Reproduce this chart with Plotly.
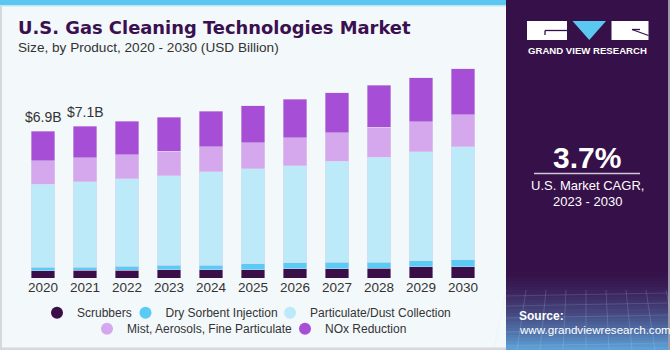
import plotly.graph_objects as go

# ---------------- data ----------------
years = ['2020', '2021', '2022', '2023', '2024', '2025', '2026', '2027', '2028', '2029', '2030']
scrubbers = [0.34, 0.36, 0.36, 0.39, 0.39, 0.40, 0.44, 0.44, 0.45, 0.52, 0.53]
dry_sorbent = [0.16, 0.15, 0.19, 0.20, 0.22, 0.27, 0.27, 0.30, 0.30, 0.30, 0.32]
particulate = [3.92, 4.03, 4.13, 4.22, 4.38, 4.46, 4.58, 4.75, 4.94, 5.12, 5.32]
mist = [1.10, 1.12, 1.13, 1.16, 1.19, 1.24, 1.30, 1.34, 1.41, 1.41, 1.51]
nox = [1.38, 1.47, 1.57, 1.60, 1.66, 1.74, 1.82, 1.88, 1.96, 2.07, 2.16]
series_names = ['Scrubbers', 'Dry Sorbent Injection', 'Particulate/Dust Collection',
                'Mist, Aerosols, Fine Particulate', 'NOx Reduction']
labelled_years = ['2020', '2021']
cagr_text = '3.7%'

# ---------------- style ----------------
colors = ['#3A0F48', '#5ACBF5', '#BDEAF9', '#D5A8EE', '#A64FD6']
FONT = 'Liberation Sans'
PANEL = '#361048'

WIDTH, HEIGHT = 670, 350
L, R, T, B = 22, 186, 55, 72
PW, PH = WIDTH - L - R, HEIGHT - T - B

# legend item placement (text start px, row centre px)
legend_pos = [(77, 312.7), (165.5, 312.7), (310, 312.7), (127, 328.7), (325, 328.7)]


def X(px):
    return (px - L) / PW


def Y(py):
    return (HEIGHT - B - py) / PH


fig = go.Figure()
all_series = [scrubbers, dry_sorbent, particulate, mist, nox]
for name, vals, col in zip(series_names, all_series, colors):
    fig.add_trace(go.Bar(
        x=years, y=vals, name=name, marker_color=col,
        marker_line=dict(width=0.5, color='rgba(225,215,240,0.9)'),
        showlegend=False, hoverinfo='x+y+name'))

legend_ids = ['legend', 'legend2', 'legend3', 'legend4', 'legend5']
for i, (name, col) in enumerate(zip(series_names, colors)):
    fig.add_trace(go.Scatter(
        x=[None], y=[None], mode='markers', name=name,
        marker=dict(size=9, color=col, symbol='circle'),
        legend=legend_ids[i], showlegend=True))

totals = [sum(v) for v in zip(*all_series)]
annotations = []
for yr in labelled_years:
    idx = years.index(yr)
    annotations.append(dict(
        x=idx, y=totals[idx], xref='x', yref='y', text=f'${totals[idx]:.1f}B',
        showarrow=False, yshift=14, font=dict(family=FONT, size=14, color='#333333')))

# title and subtitle
annotations.append(dict(x=X(16), y=Y(27), xref='paper', yref='paper', xanchor='left', yanchor='middle',
                        text='<b>U.S. Gas Cleaning Technologies Market</b>', showarrow=False,
                        font=dict(family='DejaVu Sans', size=17.9, color='#3A1050')))
annotations.append(dict(x=X(16), y=Y(47.5), xref='paper', yref='paper', xanchor='left', yanchor='middle',
                        text='Size, by Product, 2020 - 2030 (USD Billion)', showarrow=False,
                        font=dict(family=FONT, size=13.6, color='#333333')))

# right panel texts
annotations += [
    dict(x=X(587.5), y=Y(50.5), xref='paper', yref='paper', xanchor='center', yanchor='middle',
         text='<b>GRAND VIEW RESEARCH</b>', showarrow=False,
         font=dict(family=FONT, size=9.6, color='white')),
    dict(x=X(587), y=Y(157), xref='paper', yref='paper', xanchor='center', yanchor='middle',
         text=f'<b>{cagr_text}</b>', showarrow=False,
         font=dict(family=FONT, size=30, color='white')),
    dict(x=X(587), y=Y(185), xref='paper', yref='paper', xanchor='center', yanchor='middle',
         text='U.S. Market CAGR,', showarrow=False,
         font=dict(family=FONT, size=13, color='white')),
    dict(x=X(587), y=Y(201), xref='paper', yref='paper', xanchor='center', yanchor='middle',
         text='2023 - 2030', showarrow=False,
         font=dict(family=FONT, size=13, color='white')),
    dict(x=X(517), y=Y(315.5), xref='paper', yref='paper', xanchor='left', yanchor='middle',
         text='<b>Source:</b>', showarrow=False,
         font=dict(family=FONT, size=12, color='white')),
    dict(x=X(517), y=Y(329.5), xref='paper', yref='paper', xanchor='left', yanchor='middle',
         text='www.grandviewresearch.com', showarrow=False,
         font=dict(family=FONT, size=11.6, color='white')),
]


def rect(x0, y0, x1, y1, color, layer='below', line=None):
    return dict(type='rect', xref='paper', yref='paper', x0=X(x0), x1=X(x1), y0=Y(y0), y1=Y(y1),
                fillcolor=color, line=line or dict(width=0), layer=layer)


shapes = []
shapes.append(rect(0, 0, 2, 350, '#D5D8DC'))
shapes.append(rect(0, 347.5, 506, 350, '#D5D8DC'))
shapes.append(rect(0, 0, 506, 5, '#5BC8F2'))
shapes.append(rect(0, 5, 506, 6.5, '#BFE6F6'))
shapes.append(rect(506, 0, 668, 350, PANEL))
shapes.append(rect(668, 0, 670, 350, '#9A9AA8'))


def lerp(c0, c1, t):
    return '#%02x%02x%02x' % tuple(int(round(c0[i] + (c1[i] - c0[i]) * t)) for i in range(3))


c_top = (0x36, 0x10, 0x48)
c_bot = (0x5E, 0xA4, 0xDA)
n = 26
y_start, y_end = 268, 350
for i in range(n):
    t = ((i + 0.5) / n) ** 1.6
    ya = y_start + (y_end - y_start) * i / n
    yb = y_start + (y_end - y_start) * (i + 1) / n + 0.5
    shapes.append(rect(506, ya, 668, yb, lerp(c_top, c_bot, t)))
for k in range(9):
    xx = 506 + k * 20
    shapes.append(dict(type='line', xref='paper', yref='paper', x0=X(xx), x1=X(xx - 12 + k * 3),
                       y0=Y(290), y1=Y(350), line=dict(color='rgba(200,220,255,0.18)', width=1),
                       layer='below'))
for yy in [296, 306, 318, 332, 346]:
    shapes.append(dict(type='line', xref='paper', yref='paper', x0=X(506), x1=X(668),
                       y0=Y(yy), y1=Y(yy - 3), line=dict(color='rgba(200,220,255,0.16)', width=1),
                       layer='below'))

# logo
shapes.append(rect(527, 21, 567, 40, 'white'))
shapes.append(dict(type='line', xref='paper', yref='paper', x0=X(545), x1=X(567), y0=Y(30.5), y1=Y(30.5),
                   line=dict(color=PANEL, width=1.3), layer='below'))
shapes.append(dict(type='line', xref='paper', yref='paper', x0=X(545), x1=X(545), y0=Y(30.5), y1=Y(35),
                   line=dict(color=PANEL, width=1.3), layer='below'))
shapes.append(dict(type='path', xref='paper', yref='paper',
                   path=f'M {X(572.5)} {Y(21)} L {X(606)} {Y(21)} L {X(589.3)} {Y(40)} Z',
                   fillcolor='#5BC8F2', line=dict(width=0), layer='below'))
shapes.append(rect(611.5, 21, 648.5, 40, 'white'))
shapes.append(dict(type='line', xref='paper', yref='paper', x0=X(632), x1=X(648.5), y0=Y(29.5), y1=Y(35.5),
                   line=dict(color=PANEL, width=1.3), layer='below'))
shapes.append(dict(type='line', xref='paper', yref='paper', x0=X(632), x1=X(640), y0=Y(29.5), y1=Y(29.5),
                   line=dict(color=PANEL, width=1.3), layer='below'))
shapes.append(dict(type='line', xref='paper', yref='paper', x0=X(534), x1=X(640), y0=Y(173.5), y1=Y(173.5),
                   line=dict(color='#CFC6D8', width=1.3), layer='below'))

legend_common = dict(orientation='h', xanchor='left', yanchor='middle', bgcolor='rgba(0,0,0,0)',
                     font=dict(family=FONT, size=12, color='#333333'), itemwidth=30,
                     itemsizing='constant', tracegroupgap=0, traceorder='normal')
legend_layout = {}
for lid, (tx, ty) in zip(legend_ids, legend_pos):
    legend_layout[lid] = dict(x=X(tx - 40), y=Y(ty), **legend_common)

fig.update_layout(
    width=WIDTH, height=HEIGHT,
    margin=dict(l=L, r=R, t=T, b=B, pad=0, autoexpand=False),
    paper_bgcolor='#F3F8FB', plot_bgcolor='rgba(0,0,0,0)',
    barmode='stack', bargap=0.43,
    font=dict(family=FONT, size=13, color='#333333'),
    xaxis=dict(type='category', range=[-0.5, 10.5], showgrid=False, showline=False, zeroline=False,
               ticks='', tickfont=dict(family=FONT, size=13.5, color='#333333'), ticklabelstandoff=-1,
               fixedrange=True, automargin=False),
    yaxis=dict(range=[0, PH / 21.25], visible=False, showgrid=False, zeroline=False, fixedrange=True),
    annotations=annotations, shapes=shapes,
    showlegend=True,
    **legend_layout,
)

fig.write_html('out.html')
